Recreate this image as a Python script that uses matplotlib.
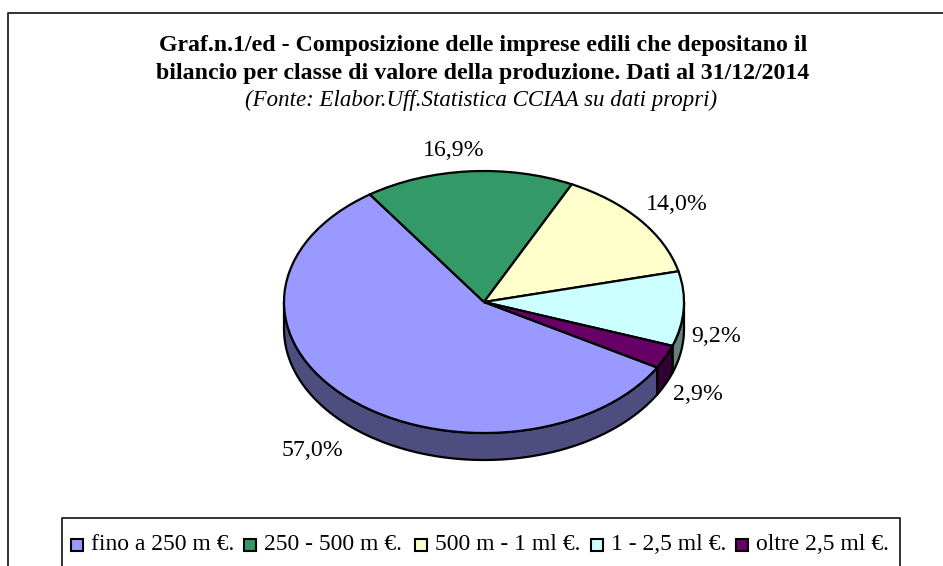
import numpy as np
import matplotlib
matplotlib.use("Agg")
import matplotlib.pyplot as plt
from matplotlib.patches import Rectangle
from matplotlib.transforms import Affine2D

categories = ["fino a 250 m €.", "250 - 500 m €.", "500 m - 1 ml €.", "1 - 2,5 ml €.", "oltre 2,5 ml €."]
values = [57.0, 16.9, 14.0, 9.2, 2.9]
labels = ["57,0%", "16,9%", "14,0%", "9,2%", "2,9%"]
colors = ["#9999FF", "#339966", "#FFFFCC", "#CCFFFF", "#660066"]
side_colors = ["#4D4D80", "#1A4D33", "#808066", "#668080", "#330033"]

W, H = 943, 566
plt.rcParams["font.family"] = ["Liberation Serif", "DejaVu Serif"]
fig = plt.figure(figsize=(W / 100, H / 100), dpi=100, facecolor="white")
ax = fig.add_axes([0, 0, 1, 1])

# pie geometry
cx, cy, rx, ry, depth = 484, 302, 200, 131, 27
START = -30.0

# top face
wedges, _ = ax.pie(values, colors=colors, startangle=START, counterclock=False,
                   frame=False, wedgeprops=dict(ec="black", lw=1.6, zorder=3))
ax.set_aspect("auto")
ax.set_xlim(0, W)
ax.set_ylim(H, 0)
ax.axis("off")
for w in wedges:
    w.set_transform(Affine2D().scale(rx, -ry).translate(cx, cy) + ax.transData)
    w.set_clip_on(False)

# frame, open at the bottom and at the right
ax.plot([8, 8, W + 5], [H + 5, 13, 13], color="#222222", lw=1.3, clip_on=False)

# side wall
angs = START - np.concatenate([[0], np.cumsum(values)]) * 3.6
for i in range(len(values)):
    a0, a1 = angs[i], angs[i + 1]
    for lo_lim, hi_lim in [(-180, 0), (-540, -360), (180, 360)]:
        s0, s1 = max(a1, lo_lim), min(a0, hi_lim)
        if s1 <= s0:
            continue
        t = np.radians(np.linspace(s0, s1, 80))
        x = cx + rx * np.cos(t)
        y = cy - ry * np.sin(t)
        ax.fill(np.r_[x, x[::-1]], np.r_[y, y[::-1] + depth],
                fc=side_colors[i], ec="black", lw=1.6, zorder=2, joinstyle="round")

# value labels
pos = [(312, 451), (454, 151), (677, 205), (716, 336), (698, 394)]
for (px, py), s in zip(pos, labels):
    ax.text(px, py, s, ha="center", va="center", fontsize=17.2, color="black", zorder=5)

# titles
kw = dict(ha="center", va="center", color="black", zorder=5)
ax.text(483, 45, "Graf.n.1/ed - Composizione delle imprese edili che depositano il",
        fontsize=17.2, fontweight="bold", **kw)
ax.text(483, 73, "bilancio per classe di valore della produzione. Dati al 31/12/2014",
        fontsize=17.2, fontweight="bold", **kw)
ax.text(481, 100, "(Fonte: Elabor.Uff.Statistica CCIAA su dati propri)",
        fontsize=16.5, fontstyle="italic", **kw)

# legend box, cut by the image bottom
ax.plot([62, 62, 900, 900], [H + 5, 518, 518, H + 5], color="#222222", lw=1.3, clip_on=False)
ex = [76.5, 250, 420.5, 596.5, 742]
for xx, c, s in zip(ex, colors, categories):
    ax.add_patch(Rectangle((xx - 6, 538.5), 12, 12.5, fc=c, ec="black", lw=1.5, zorder=5))
    ax.text(xx + 14.5, 544, s, ha="left", va="center", fontsize=17, zorder=5)

fig.savefig("out.png", dpi=100)
